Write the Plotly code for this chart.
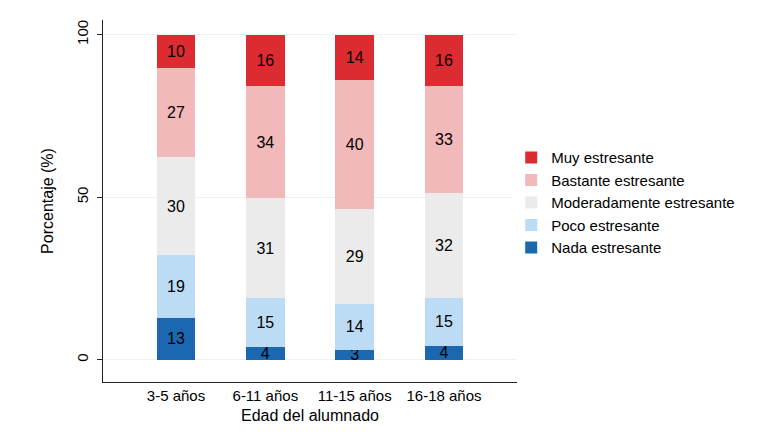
import plotly.graph_objects as go

# Edad del alumnado
edades = ["3-5 años", "6-11 años", "11-15 años", "16-18 años"]

# porcentajes por categoría (de abajo a arriba)
nada = [13.0, 4.0, 3.1, 4.3]
poco = [19.1, 15.1, 14.2, 14.8]
moderado = [30.4, 30.6, 29.0, 32.1]
bastante = [27.1, 34.4, 39.8, 33.1]
muy = [10.4, 15.9, 13.9, 15.7]

series = [
    ("Nada estresante", nada, "#1B68B0"),
    ("Poco estresante", poco, "#BCDBF5"),
    ("Moderadamente estresante", moderado, "#EBEBEB"),
    ("Bastante estresante", bastante, "#F2B9BA"),
    ("Muy estresante", muy, "#DC2B31"),
]

fuente = "Liberation Sans, Arial, sans-serif"

fig = go.Figure()
for nombre, vals, color in series:
    fig.add_trace(go.Bar(
        x=edades, y=vals, name=nombre,
        marker=dict(color=color, line=dict(width=0)),
        width=0.43,
        text=vals, texttemplate="%{y:.0f}",
        textposition="inside", insidetextanchor="middle",
        textangle=0, constraintext="none",
        textfont=dict(size=16, color="black", family=fuente),
    ))

# la página añade 8px de margen al body: se compensa aquí
fig.update_layout(
    barmode="stack",
    width=761, height=439,
    paper_bgcolor="white", plot_bgcolor="white",
    margin=dict(l=95, r=252, t=12, b=65, autoexpand=False),
    font=dict(family=fuente, color="black"),
    uniformtext=dict(minsize=16, mode="show"),
    legend=dict(
        traceorder="reversed",
        x=0.986, xanchor="left", y=0.665, yanchor="top",
        font=dict(size=15, color="black"),
        itemwidth=30, tracegroupgap=0,
    ),
)
fig.update_xaxes(
    range=[-0.817, 3.817], automargin=False,
    showline=True, linecolor="#222", linewidth=1,
    ticks="", showgrid=False,
    tickfont=dict(size=15),
    title=dict(text="Edad del alumnado", font=dict(size=16), standoff=6),
)
fig.update_yaxes(
    range=[-6.8, 104.5], automargin=False,
    tickvals=[0, 50, 100], tickangle=-90,
    showline=True, linecolor="#222", linewidth=1,
    ticks="outside", ticklen=5, tickcolor="#222",
    ticklabelstandoff=3,
    showgrid=True, gridcolor="#EDF3F4", gridwidth=1,
    zeroline=False,
    tickfont=dict(size=15),
    title=dict(text="Porcentaje (%)", font=dict(size=16), standoff=16),
)

fig.write_html("out.html")
